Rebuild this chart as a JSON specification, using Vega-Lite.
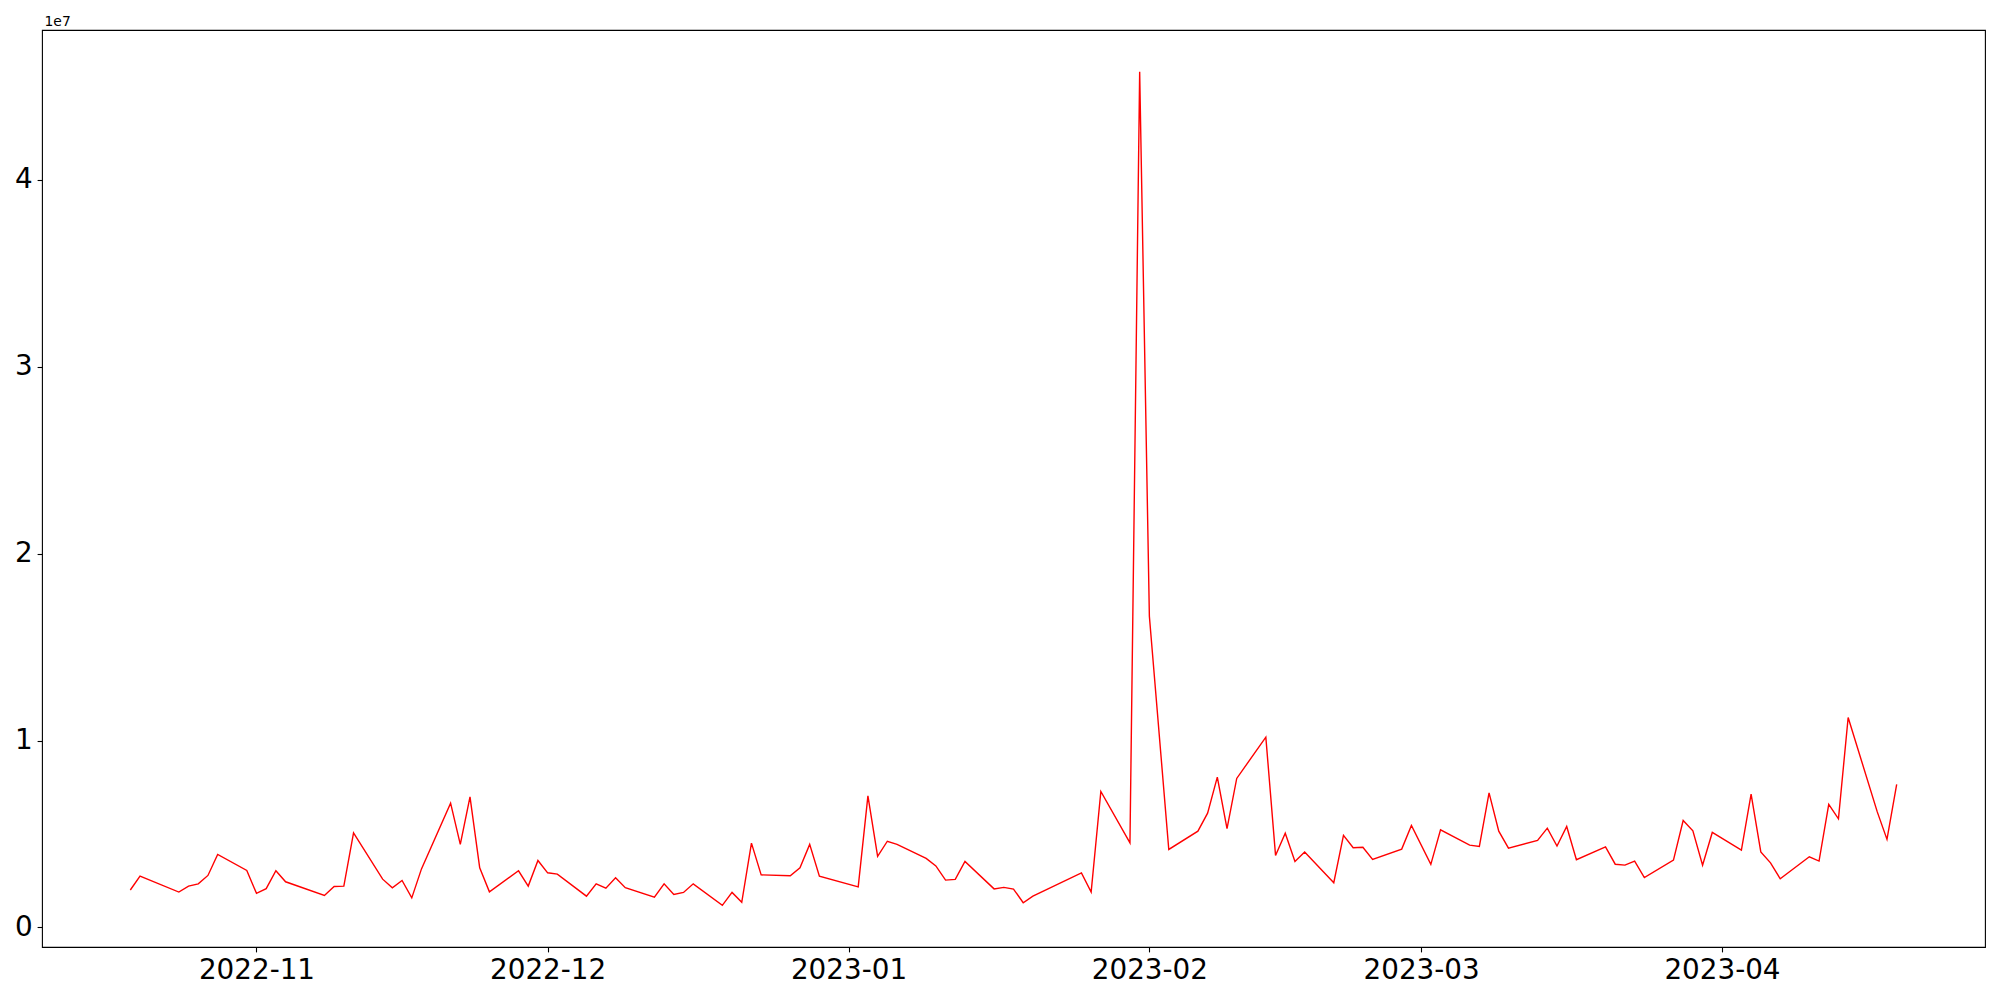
{
  "$schema": "https://vega.github.io/schema/vega-lite/v6.json",
  "width": 1943,
  "height": 917,
  "autosize": {"type": "none"},
  "padding": {"left": 42, "top": 30, "right": 15, "bottom": 53},
  "background": "white",
  "config": {
    "font": "DejaVu Sans",
    "view": {"stroke": "black", "strokeWidth": 1.1, "fill": "white"}
  },
  "data": {
    "values": [
      {"date": "2022-10-19", "value": 2000000},
      {"date": "2022-10-20", "value": 2740000},
      {"date": "2022-10-24", "value": 1890000},
      {"date": "2022-10-25", "value": 2210000},
      {"date": "2022-10-26", "value": 2330000},
      {"date": "2022-10-27", "value": 2780000},
      {"date": "2022-10-28", "value": 3900000},
      {"date": "2022-10-31", "value": 3050000},
      {"date": "2022-11-01", "value": 1820000},
      {"date": "2022-11-02", "value": 2070000},
      {"date": "2022-11-03", "value": 3030000},
      {"date": "2022-11-04", "value": 2440000},
      {"date": "2022-11-08", "value": 1710000},
      {"date": "2022-11-09", "value": 2190000},
      {"date": "2022-11-10", "value": 2210000},
      {"date": "2022-11-11", "value": 5060000},
      {"date": "2022-11-14", "value": 2580000},
      {"date": "2022-11-15", "value": 2120000},
      {"date": "2022-11-16", "value": 2510000},
      {"date": "2022-11-17", "value": 1580000},
      {"date": "2022-11-18", "value": 3130000},
      {"date": "2022-11-21", "value": 6650000},
      {"date": "2022-11-22", "value": 4440000},
      {"date": "2022-11-23", "value": 6980000},
      {"date": "2022-11-24", "value": 3190000},
      {"date": "2022-11-25", "value": 1900000},
      {"date": "2022-11-28", "value": 3030000},
      {"date": "2022-11-29", "value": 2210000},
      {"date": "2022-11-30", "value": 3580000},
      {"date": "2022-12-01", "value": 2920000},
      {"date": "2022-12-02", "value": 2850000},
      {"date": "2022-12-05", "value": 1670000},
      {"date": "2022-12-06", "value": 2330000},
      {"date": "2022-12-07", "value": 2100000},
      {"date": "2022-12-08", "value": 2650000},
      {"date": "2022-12-09", "value": 2120000},
      {"date": "2022-12-12", "value": 1620000},
      {"date": "2022-12-13", "value": 2330000},
      {"date": "2022-12-14", "value": 1760000},
      {"date": "2022-12-15", "value": 1870000},
      {"date": "2022-12-16", "value": 2330000},
      {"date": "2022-12-19", "value": 1180000},
      {"date": "2022-12-20", "value": 1870000},
      {"date": "2022-12-21", "value": 1340000},
      {"date": "2022-12-22", "value": 4510000},
      {"date": "2022-12-23", "value": 2810000},
      {"date": "2022-12-26", "value": 2760000},
      {"date": "2022-12-27", "value": 3190000},
      {"date": "2022-12-28", "value": 4440000},
      {"date": "2022-12-29", "value": 2740000},
      {"date": "2023-01-02", "value": 2170000},
      {"date": "2023-01-03", "value": 7040000},
      {"date": "2023-01-04", "value": 3800000},
      {"date": "2023-01-05", "value": 4610000},
      {"date": "2023-01-06", "value": 4440000},
      {"date": "2023-01-09", "value": 3690000},
      {"date": "2023-01-10", "value": 3290000},
      {"date": "2023-01-11", "value": 2530000},
      {"date": "2023-01-12", "value": 2570000},
      {"date": "2023-01-13", "value": 3530000},
      {"date": "2023-01-16", "value": 2060000},
      {"date": "2023-01-17", "value": 2140000},
      {"date": "2023-01-18", "value": 2050000},
      {"date": "2023-01-19", "value": 1320000},
      {"date": "2023-01-20", "value": 1670000},
      {"date": "2023-01-25", "value": 2920000},
      {"date": "2023-01-26", "value": 1890000},
      {"date": "2023-01-27", "value": 7270000},
      {"date": "2023-01-30", "value": 4520000},
      {"date": "2023-01-31", "value": 45790000},
      {"date": "2023-02-01", "value": 16650000},
      {"date": "2023-02-03", "value": 4170000},
      {"date": "2023-02-06", "value": 5150000},
      {"date": "2023-02-07", "value": 6110000},
      {"date": "2023-02-08", "value": 8040000},
      {"date": "2023-02-09", "value": 5290000},
      {"date": "2023-02-10", "value": 7970000},
      {"date": "2023-02-13", "value": 10180000},
      {"date": "2023-02-14", "value": 3850000},
      {"date": "2023-02-15", "value": 5040000},
      {"date": "2023-02-16", "value": 3530000},
      {"date": "2023-02-17", "value": 4030000},
      {"date": "2023-02-20", "value": 2390000},
      {"date": "2023-02-21", "value": 4920000},
      {"date": "2023-02-22", "value": 4260000},
      {"date": "2023-02-23", "value": 4290000},
      {"date": "2023-02-24", "value": 3640000},
      {"date": "2023-02-27", "value": 4190000},
      {"date": "2023-02-28", "value": 5450000},
      {"date": "2023-03-02", "value": 3370000},
      {"date": "2023-03-03", "value": 5220000},
      {"date": "2023-03-06", "value": 4400000},
      {"date": "2023-03-07", "value": 4330000},
      {"date": "2023-03-08", "value": 7200000},
      {"date": "2023-03-09", "value": 5150000},
      {"date": "2023-03-10", "value": 4240000},
      {"date": "2023-03-13", "value": 4650000},
      {"date": "2023-03-14", "value": 5310000},
      {"date": "2023-03-15", "value": 4350000},
      {"date": "2023-03-16", "value": 5400000},
      {"date": "2023-03-17", "value": 3620000},
      {"date": "2023-03-20", "value": 4310000},
      {"date": "2023-03-21", "value": 3380000},
      {"date": "2023-03-22", "value": 3330000},
      {"date": "2023-03-23", "value": 3550000},
      {"date": "2023-03-24", "value": 2670000},
      {"date": "2023-03-27", "value": 3600000},
      {"date": "2023-03-28", "value": 5720000},
      {"date": "2023-03-29", "value": 5170000},
      {"date": "2023-03-30", "value": 3330000},
      {"date": "2023-03-31", "value": 5080000},
      {"date": "2023-04-03", "value": 4130000},
      {"date": "2023-04-04", "value": 7130000},
      {"date": "2023-04-05", "value": 4040000},
      {"date": "2023-04-06", "value": 3450000},
      {"date": "2023-04-07", "value": 2600000},
      {"date": "2023-04-10", "value": 3780000},
      {"date": "2023-04-11", "value": 3550000},
      {"date": "2023-04-12", "value": 6580000},
      {"date": "2023-04-13", "value": 5810000},
      {"date": "2023-04-14", "value": 11230000},
      {"date": "2023-04-17", "value": 6180000},
      {"date": "2023-04-18", "value": 4710000},
      {"date": "2023-04-19", "value": 7650000}
    ]
  },
  "mark": {"type": "line", "color": "#ff0000", "strokeWidth": 1.4, "clip": true},
  "encoding": {
    "x": {
      "field": "date",
      "type": "temporal",
      "scale": {
        "type": "utc",
        "domain": [
          {"year": 2022, "month": 10, "date": 9, "hours": 21, "minutes": 36, "utc": true},
          {"year": 2023, "month": 4, "date": 28, "hours": 2, "minutes": 24, "utc": true}
        ]
      },
      "axis": {
        "title": null,
        "grid": false,
        "domain": false,
        "format": "%Y-%m",
        "values": [
          {"year": 2022, "month": 11, "date": 1, "utc": true},
          {"year": 2022, "month": 12, "date": 1, "utc": true},
          {"year": 2023, "month": 1, "date": 1, "utc": true},
          {"year": 2023, "month": 2, "date": 1, "utc": true},
          {"year": 2023, "month": 3, "date": 1, "utc": true},
          {"year": 2023, "month": 4, "date": 1, "utc": true}
        ],
        "ticks": true,
        "tickColor": "black",
        "tickSize": 4.9,
        "tickWidth": 1.1,
        "labelFontSize": 27.8,
        "labelColor": "black",
        "labelPadding": 4.9,
        "labelFlush": false,
        "labelOverlap": false
      }
    },
    "y": {
      "field": "value",
      "type": "quantitative",
      "scale": {"domain": [-1050000, 48020000], "nice": false, "zero": false},
      "axis": {
        "title": "1e7",
        "titleAngle": 0,
        "titleX": 2,
        "titleY": -5,
        "titleAlign": "left",
        "titleBaseline": "alphabetic",
        "titleFontSize": 13.9,
        "titleFontWeight": "normal",
        "titleColor": "black",
        "grid": false,
        "domain": false,
        "values": [0, 10000000, 20000000, 30000000, 40000000],
        "labelExpr": "format(datum.value / 10000000, 'd')",
        "ticks": true,
        "tickColor": "black",
        "tickSize": 4.9,
        "tickWidth": 1.1,
        "labelFontSize": 27.8,
        "labelColor": "black",
        "labelPadding": 4.9,
        "labelFlush": false,
        "labelOverlap": false
      }
    }
  }
}
